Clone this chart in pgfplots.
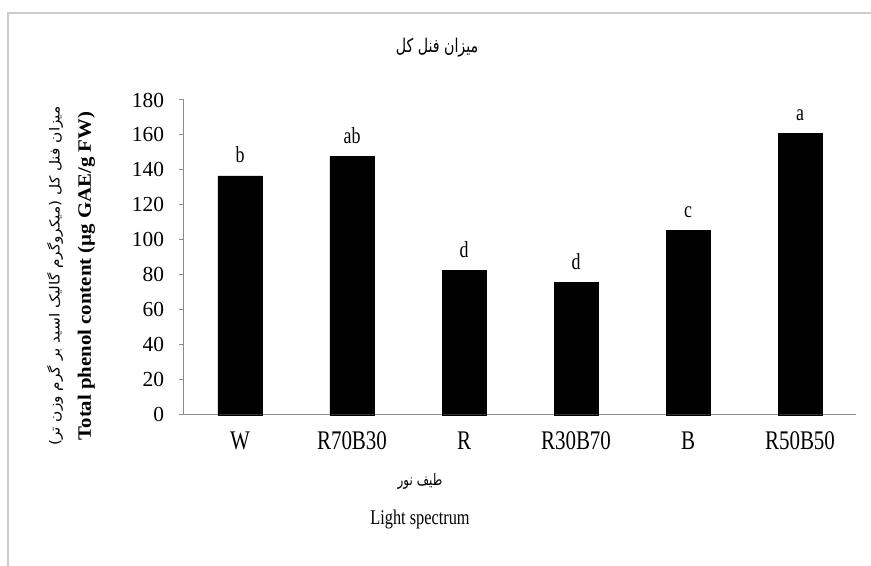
\documentclass[border=0pt]{standalone}
\usepackage{fontspec}
\setmainfont{Liberation Serif}
\newfontfamily\tallfont[FakeStretch=0.78]{Liberation Serif}
\newfontfamily\longfont[FakeStretch=1.1]{Liberation Serif}
\newfontfamily\arabicfont[Script=Arabic,FakeStretch=0.85]{DejaVu Sans}
\newfontfamily\arabictall[Script=Arabic,FakeStretch=0.75]{DejaVu Sans}
\newfontfamily\arabiclong[Script=Arabic,FakeStretch=1.1]{DejaVu Sans}
\TeXXeTstate=1
\usepackage{pgfplots}
\usepackage{pgfplotstable}
\pgfplotsset{compat=1.18}
\definecolor{framegray}{RGB}{205,205,205}
\definecolor{axgray}{RGB}{140,140,140}
\pgfplotstableread{
x y lab
0 136.6 b
1 147.6 ab
2 82.4 d
3 75.7 d
4 105.3 c
5 160.8 a
}\datatable
\begin{document}
\begin{tikzpicture}
\useasboundingbox (-184bp,-151.3bp) rectangle (687bp,414.7bp);
\draw[framegray, line width=1.5bp] (-176bp,-200bp) -- (-176bp,401.7bp) -- (800bp,401.7bp);
\begin{axis}[
  at={(0,0)}, anchor=south west,
  scale only axis, width=672bp, height=314.7bp,
  xmin=-0.5, xmax=5.5, ymin=0, ymax=180,
  axis x line*=bottom, axis y line*=left,
  axis line style={draw=axgray, line width=1bp, -},
  ytick={0,20,...,180},
  xtick={0,...,5}, xticklabels={W,R70B30,R,R30B70,B,R50B50},
  xtick style={draw=none},
  ytick style={draw=axgray, line width=1bp},
  tick align=outside, major tick length=5bp,
  /pgf/number format/assume math mode=true,
  yticklabel style={font=\fontsize{21.5}{25}\selectfont, xshift=-11.5bp},
  xticklabel style={font=\tallfont\fontsize{27}{30}\selectfont, anchor=base, yshift=-30bp},
  ybar, bar width=44bp,
  nodes near coords, point meta=explicit symbolic,
  every node near coord/.append style={anchor=base, yshift=13bp, font=\tallfont\fontsize{23}{26}\selectfont, text=black},
  clip=false,
]
\addplot[fill=black, draw=black] table[x=x,y=y,meta=lab]{\datatable};
\end{axis}
\node at (253bp,366.7bp) {\arabictall\fontsize{19}{22}\selectfont\beginR میزان فنل کل\endR};
\node[rotate=90] at (-129bp,138.7bp) {\arabiclong\fontsize{14}{17}\selectfont\beginR میزان فنل کل (میکروگرم گالیک اسید بر گرم وزن تر)\endR};
\node[rotate=90, font=\longfont\bfseries\fontsize{19}{22}\selectfont] at (-97.5bp,138.7bp) {Total phenol content (µg GAE/g FW)};
\node at (236bp,-66.3bp) {\arabictall\fontsize{16}{19}\selectfont\beginR طیف نور\endR};
\node[font=\tallfont\fontsize{21}{24}\selectfont] at (236bp,-104.3bp) {Light spectrum};
\end{tikzpicture}
\end{document}
